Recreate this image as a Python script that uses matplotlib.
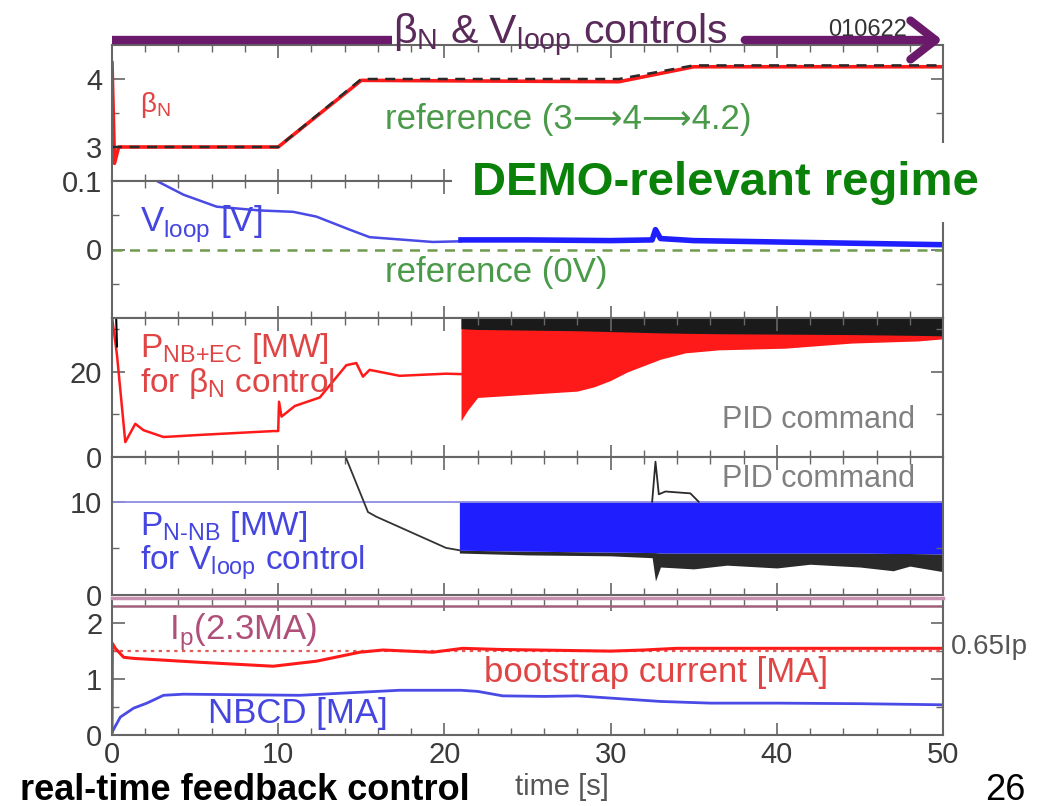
import matplotlib
matplotlib.use("Agg")
import matplotlib.pyplot as plt
from matplotlib.patches import Rectangle, FancyArrowPatch

plt.rcParams['font.family'] = ['Liberation Sans', 'DejaVu Sans']
plt.rcParams['mathtext.fontset'] = 'custom'
plt.rcParams['mathtext.rm'] = 'Liberation Sans'

# --- beta_N and its reference
beta_t = [0, 0.15, 0.4, 10, 15, 30.5, 35, 50]
beta_v = [4.24, 2.76, 3.0, 3.0, 3.98, 3.96, 4.18, 4.18]
beta_ref_t = [0, 10, 15, 30.5, 35, 50]
beta_ref_v = [3.0, 3.0, 4.0, 4.0, 4.2, 4.2]

# --- loop voltage (before / after the feedback phase)
vloop_t = [0, 1.5, 2.7, 4.3, 6.3, 8.9, 10.9, 12.3, 14.3, 15.5, 19.3, 21.0]
vloop_v = [0.2, 0.125, 0.1, 0.08, 0.0625, 0.057, 0.055, 0.048, 0.029, 0.018, 0.011, 0.012]
vloop_fb_t = [21, 25, 30, 32.5, 32.7, 33.0, 35, 40, 45, 50]
vloop_fb_v = [0.014, 0.014, 0.013, 0.014, 0.029, 0.016, 0.013, 0.011, 0.009, 0.007]

# --- NB+EC power for beta_N control
pnb_t = [0, 0.3, 0.8, 1.4, 1.9, 3.1, 5.3, 9.7, 10.0, 10.05, 10.2, 11, 12.5, 14.1, 14.7,
         15.1, 15.5, 17.3, 20.1, 21.0]
pnb_v = [33, 24, 3.5, 7.8, 6.3, 4.7, 5.2, 6.1, 6.1, 13.0, 9.5, 12, 14, 21.6, 22.1,
         18.9, 20.5, 19.1, 19.6, 19.5]
pnb_band_t = [21, 21.4, 22, 24, 26, 28, 29, 30, 31, 32, 33, 34.5, 36.5, 40.5, 44.5, 48.5, 50]
pnb_band_lo = [8.5, 11, 14, 14.5, 15, 15.5, 16.5, 18, 20, 21.5, 23, 24.5, 25.2, 25.6, 26.8, 27.3, 27.8]
pid3_band_lo = [30.2, 30.1, 30, 29.9, 29.8, 29.7, 29.6, 29.5, 29.4, 29.3, 29.2, 29.1, 29.0, 28.9, 28.8, 28.6, 28.5]
pid3_t0 = [0.25, 0.3]
pid3_v0 = [33, 26]

# --- N-NB power for V_loop control
pnnb_max = 10
pid4_t = [13.9, 15.4, 15.9, 20.1, 20.9]
pid4_v = [15.5, 8.9, 8.4, 5.05, 4.8]
nnb_t = [20.9, 25, 30, 32.5, 32.7, 33, 35, 37, 40, 42, 45, 47, 48, 50]
nnb_lo = [4.8, 4.7, 4.6, 4.55, 4.55, 4.5, 4.5, 4.5, 4.5, 4.5, 4.5, 4.45, 4.45, 4.4]
pid4_lo = [4.5, 4.3, 4.2, 4.0, 1.5, 3.0, 2.8, 3.2, 2.9, 3.3, 3.0, 2.6, 3.1, 2.5]
pid4_up_t = [32.5, 32.7, 32.9, 33.3, 34.8, 35.3]
pid4_up_v = [10, 14.3, 10.8, 11.1, 10.9, 10]

# --- currents
ip = 2.3
bs_frac = 0.65
bs_t = [0, 0.02, 0.2, 0.7, 1.3, 5.3, 9.7, 12.3, 14.9, 16.3, 19.3, 21.1, 23.3, 30, 32, 34, 50]
bs_v = [0, 1.64, 1.55, 1.39, 1.37, 1.30, 1.23, 1.32, 1.48, 1.52, 1.48, 1.55, 1.53, 1.5, 1.52, 1.55, 1.55]
nbcd_t = [0, 0.5, 1.3, 2.1, 3.1, 4.3, 11.3, 17.3, 21, 22, 23.5, 26, 28, 30, 33, 36, 40, 45, 50]
nbcd_v = [0.05, 0.32, 0.48, 0.57, 0.71, 0.73, 0.71, 0.80, 0.80, 0.78, 0.70, 0.69, 0.70, 0.66,
          0.60, 0.57, 0.57, 0.56, 0.54]

time_ticks = [0, 10, 20, 30, 40, 50]

W, H = 1040, 806
fig = plt.figure(figsize=(W / 100, H / 100), dpi=100)


def panel(top, bottom):
    ax = fig.add_axes([112 / W, 1 - bottom / H, (943 - 112) / W, (bottom - top) / H])
    ax.set_xlim(0, 50)
    ax.set_xticks(time_ticks)
    ax.set_xticks(range(0, 51, 2), minor=True)
    ax.tick_params(which='both', direction='in', top=True, right=True,
                   labelsize=21, labelcolor='#3a3a3a', color='#666', pad=7)
    ax.tick_params(which='major', length=9, width=1.2)
    ax.tick_params(which='minor', length=5, width=1.0)
    ax.tick_params(axis='x', labelbottom=False)
    for s in ax.spines.values():
        s.set_color('#666')
        s.set_linewidth(1.5)
    return ax


red = '#ff1a1a'
red_txt = '#e04545'
blue = '#1e1eff'
blue_txt = '#4545e0'
green_txt = '#4a9a4a'
grey_txt = '#808080'
lbl = 25

# panel 1: beta_N
ax1 = panel(45, 181)
ax1.set_ylim(2.5, 4.5)
ax1.set_yticks([3, 4])
ax1.set_yticks([3.5], minor=True)
ax1.plot(beta_t, beta_v, color=red, lw=2.6)
ax1.plot(beta_ref_t, beta_ref_v, color='#2a2a2a', lw=1.8, dashes=(4, 3))
ax1.text(1.7, 3.62, 'β$_\\mathregular{N}$', color=red_txt, fontsize=20, va='center')
ax1.text(16.4, 3.40, 'reference (3⟶4⟶4.2)', color=green_txt, fontsize=lbl, va='center')

# panel 2: V_loop
ax2 = panel(181, 318)
ax2.set_ylim(-0.1, 0.1)
ax2.set_yticks([0, 0.1])
ax2.set_yticklabels(['0', '0.1'])
ax2.set_yticks([-0.05, 0.05], minor=True)
ax2.axhline(0, color='#6f9a4f', lw=1.8, dashes=(4, 3))
ax2.plot(vloop_t, vloop_v, color='#4a4ae6', lw=1.8)
ax2.plot(vloop_fb_t, vloop_fb_v, color=blue, lw=4)
ax2.text(1.7, 0.037, 'V$_\\mathregular{loop}$ [V]', color=blue_txt, fontsize=lbl, va='center')
ax2.text(16.4, -0.033, 'reference (0V)', color=green_txt, fontsize=lbl, va='center')

# panel 3: P_NB+EC
ax3 = panel(318, 457)
ax3.set_ylim(0, 32.7)
ax3.set_yticks([0, 20])
ax3.set_yticks([10, 30], minor=True)
ax3.plot(pnb_t, pnb_v, color=red, lw=1.8)
ax3.plot(pid3_t0, pid3_v0, color='black', lw=1.5)
ax3.fill_between(pnb_band_t, pnb_band_lo, 34, color=red, lw=0)
ax3.fill_between(pnb_band_t, pid3_band_lo, 34, color='#1a1a1a', lw=0)
ax3.text(1.7, 25.6, 'P$_\\mathregular{NB{+}EC}$ [MW]', color=red_txt, fontsize=24, va='center')
ax3.text(1.7, 17.4, 'for β$_\\mathregular{N}$ control', color=red_txt, fontsize=24, va='center')
ax3.text(48.3, 8.7, 'PID command', color=grey_txt, fontsize=22, va='center', ha='right')

# panel 4: P_N-NB
ax4 = panel(457, 595)
ax4.set_ylim(0, 14.8)
ax4.set_yticks([0, 10])
ax4.set_yticks([5], minor=True)
ax4.axhline(pnnb_max, color='#8c8ce0', lw=1.3)
ax4.plot(pid4_t, pid4_v, color='#333', lw=1.3)
ax4.fill_between(nnb_t, pid4_lo, nnb_lo, color='#2a2a2a', lw=0)
ax4.fill_between(nnb_t, nnb_lo, pnnb_max, color=blue, lw=0)
ax4.plot(pid4_up_t, pid4_up_v, color='#2a2a2a', lw=1.3)
ax4.text(48.3, 12.4, 'PID command', color=grey_txt, fontsize=22, va='center', ha='right')
ax4.text(1.7, 7.3, 'P$_\\mathregular{N\u2010NB}$ [MW]', color=blue_txt, fontsize=24, va='center')
ax4.text(1.7, 3.5, 'for V$_\\mathregular{loop}$ control', color=blue_txt, fontsize=24, va='center')

# panel 5: currents
ax5 = panel(598, 735)
ax5.set_ylim(0, 2.45)
ax5.set_yticks([0, 1, 2])
ax5.set_yticks([0.5, 1.5], minor=True)
ax5.spines['top'].set_color('#c890b0')
ax5.spines['top'].set_linewidth(2.5)
ax5.axhline(ip, color='#a0607a', lw=1.8)
ax5.axhline(ip * bs_frac, color='#e05a5a', lw=1.6, ls=(0, (1.5, 2)))
ax5.plot(bs_t, bs_v, color=red, lw=2.2)
ax5.plot(nbcd_t, nbcd_v, color='#4a4ae6', lw=2.0)
ax5.text(3.4, 1.84, 'I$_\\mathregular{p}$(2.3MA)', color='#b0507a', fontsize=lbl, va='center')
ax5.text(22.4, 1.11, 'bootstrap current [MA]', color=red_txt, fontsize=lbl, va='center')
ax5.text(5.8, 0.39, 'NBCD [MA]', color=blue_txt, fontsize=lbl, va='center')
ax5.text(50.5, ip * bs_frac + 0.07, '0.65Ip', color='#555', fontsize=20, va='center',
         clip_on=False)
ax5.tick_params(axis='x', labelbottom=True, pad=4)
fig.text(562 / W, 1 - 787 / H, 'time [s]', color='#555', fontsize=21, ha='center', va='center')

# control phase arrow on top
ya = 1 - 40 / H
fig.text(868 / W, 1 - 30 / H, '010622', color='#333', fontsize=17, ha='center', va='center',
         zorder=1)
fig.add_artist(plt.Line2D([112 / W, 392 / W], [ya, ya], color='#6b1a6b', lw=6,
                          solid_capstyle='butt', zorder=2))
fig.text(560 / W, 1 - 36 / H,
         'β$_\\mathregular{N}$ & V$_\\mathregular{loop}$ controls',
         color='#5a2a5a', fontsize=29.5, ha='center', va='center')
fig.patches.append(FancyArrowPatch(
    (742 / W, ya), (945 / W, ya), transform=fig.transFigure, figure=fig,
    arrowstyle='->,head_length=0.9,head_width=0.7', color='#6b1a6b', lw=6,
    mutation_scale=20, zorder=2))

# highlighted regime note
fig.patches.append(Rectangle((452 / W, 1 - 222 / H), (945 - 452) / W, 79 / H,
                             transform=fig.transFigure, figure=fig,
                             facecolor='white', edgecolor='none', zorder=5))
fig.text(472 / W, 1 - 183 / H, 'DEMO-relevant regime', color='#0a820a', fontsize=34,
         fontweight='bold', ha='left', va='center', zorder=6)

fig.text(20 / W, 1 - 790 / H, 'real-time feedback control', color='black', fontsize=26,
         fontweight='bold', ha='left', va='center')
fig.text(1005 / W, 1 - 790 / H, '26', color='black', fontsize=26, ha='center', va='center')

fig.savefig('out.png', dpi=100)
